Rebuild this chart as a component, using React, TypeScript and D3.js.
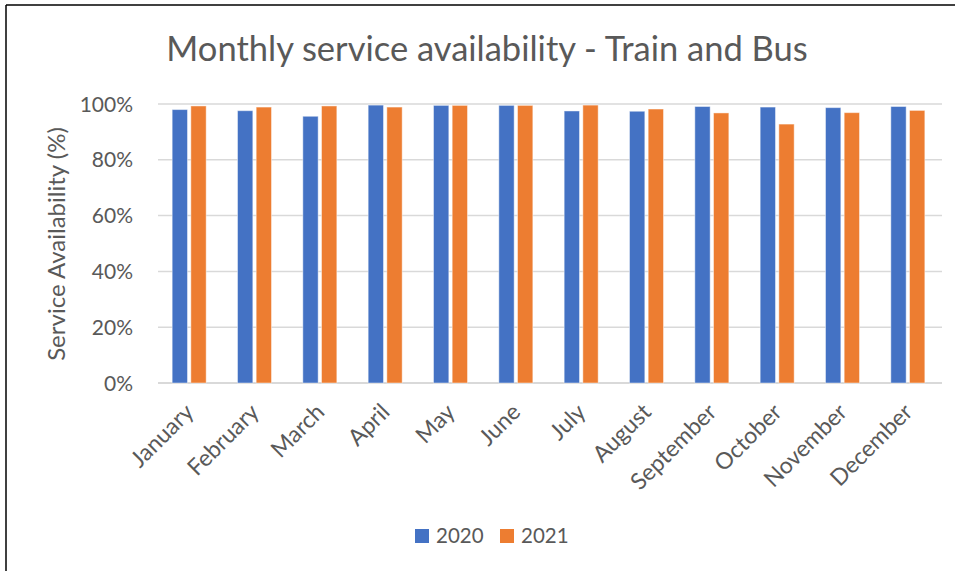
import React from "react";
import * as d3 from "d3";

const months = ["January","February","March","April","May","June","July","August","September","October","November","December"];
const series = ["2020", "2021"];
const values2020 = [98.0, 97.6, 95.6, 99.6, 99.5, 99.5, 97.5, 97.4, 99.1, 98.9, 98.7, 99.1];
const values2021 = [99.3, 98.9, 99.3, 98.9, 99.5, 99.5, 99.6, 98.2, 96.8, 92.8, 96.9, 97.7];
const yTicks = [0, 20, 40, 60, 80, 100];
const colors = ["#4472C4", "#ED7D31"];

const W = 959, H = 571;
const FONT = "Lato, 'Open Sans', sans-serif";
const TEXT = "#595959";

export default function App() {
  const x0 = d3.scaleBand<string>().domain(months).range([158, 942]).padding(0);
  const pairW = 34;
  const x1 = d3.scaleBand<string>().domain(series).range([0, pairW]).paddingInner(0.18).paddingOuter(0);
  const y = d3.scaleLinear().domain([0, 100]).range([383, 104]);
  const data = [values2020, values2021];
  const fmt = (v: number) => `${v}%`;

  return (
    <svg width={W} height={H} style={{ position: "fixed", left: 0, top: 0, background: "#fff" }} fontFamily={FONT}>
      <rect x={0} y={0} width={W} height={H} fill="#fff" />
      <line x1={6} y1={5} x2={955} y2={5} stroke="#000" strokeWidth={1.5} />
      <line x1={6} y1={5} x2={6} y2={H} stroke="#000" strokeWidth={1.5} />
      <text x={487} y={61} textAnchor="middle" fontSize={34.5} fill={TEXT}>Monthly service availability - Train and Bus</text>
      {yTicks.map((t) => (
        <g key={t}>
          <line x1={158} x2={942} y1={y(t)} y2={y(t)} stroke="#D9D9D9" strokeWidth={t === 0 ? 2 : 1.5} />
          <text x={133} y={y(t)} dy="0.36em" textAnchor="end" fontSize={21} fill={TEXT}>{fmt(t)}</text>
        </g>
      ))}
      <text transform={`translate(65,244) rotate(-90)`} textAnchor="middle" fontSize={24} fill={TEXT}>Service Availability (%)</text>
      {months.map((m, i) => {
        const cx = (x0(m) as number) + x0.bandwidth() / 2;
        const start = cx - pairW / 2 - 1.5;
        return (
          <g key={m}>
            {series.map((s, j) => (
              <rect key={s} x={start + (x1(s) as number)} y={y(data[j][i])} width={x1.bandwidth()} height={y(0) - y(data[j][i])}
                fill={colors[j]} stroke="#ffffff" strokeOpacity={0.45} strokeWidth={1} />
            ))}
            <text transform={`translate(${cx + 4.5},${413.5}) rotate(-45)`} textAnchor="end" fontSize={23} fill={TEXT}>{m}</text>
          </g>
        );
      })}
      {series.map((s, j) => (
        <g key={s} transform={`translate(${415 + j * 85},529)`}>
          <rect x={0} y={0} width={14} height={14} fill={colors[j]} />
          <text x={21} y={14} fontSize={20.5} fill={TEXT}>{s}</text>
        </g>
      ))}
    </svg>
  );
}
